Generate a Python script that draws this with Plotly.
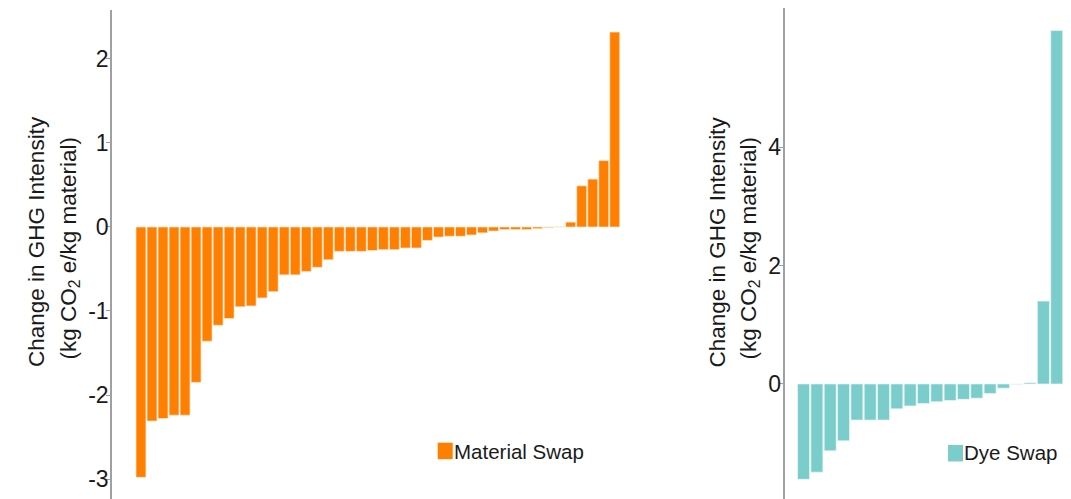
import plotly.graph_objects as go

W, H = 1071, 499

# Change in GHG intensity per swap, sorted ascending (kg CO2e / kg material)
material_swap = [
    -2.98, -2.31, -2.28, -2.24, -2.24, -1.85, -1.36, -1.17, -1.09, -0.95,
    -0.94, -0.845, -0.77, -0.57, -0.57, -0.53, -0.48, -0.39, -0.29, -0.29,
    -0.29, -0.28, -0.27, -0.27, -0.25, -0.25, -0.16, -0.12, -0.11, -0.11,
    -0.095, -0.07, -0.048, -0.03, -0.03, -0.03, -0.02, -0.008, 0.002, 0.058,
    0.49, 0.57, 0.79, 2.32,
]
dye_swap = [
    -1.61, -1.49, -1.13, -0.96, -0.61, -0.61, -0.61, -0.42, -0.37, -0.33,
    -0.30, -0.28, -0.26, -0.24, -0.16, -0.07, -0.005, 0.02, 1.40, 5.97,
]

left_ticks = [-3, -2, -1, 0, 1, 2]
left_ticktext = ["-3", "-2", "-1", "0", "1", "2"]
right_ticks = [0, 2, 4]
right_ticktext = ["0", "2", "4"]

series_names = ["Material Swap", "Dye Swap"]
ORANGE = "#FF8000"
TEAL = "#7ACDCA"

FONT = "Liberation Sans, Arial, sans-serif"
AXIS_GREY = "#A0A0A0"
TEXT = "#1A1A1A"
TITLE = "Change in GHG Intensity"
SUBTITLE = "(kg CO<sub>2</sub> e/kg material)"


def px_x(p):
    return p / W


def px_y(p):
    return 1 - p / H


fig = go.Figure()

fig.add_trace(go.Bar(
    x=list(range(len(material_swap))), y=material_swap,
    marker=dict(color=ORANGE, line=dict(color="rgba(255,235,215,0.9)", width=0.7)),
    xaxis="x", yaxis="y", showlegend=False, name=series_names[0],
))
fig.add_trace(go.Bar(
    x=list(range(len(dye_swap))), y=dye_swap,
    marker=dict(color=TEAL, line=dict(color="rgba(235,250,250,0.9)", width=0.7)),
    xaxis="x2", yaxis="y2", showlegend=False, name=series_names[1],
))

hidden_x = dict(showline=False, showticklabels=False, showgrid=False,
                zeroline=False, ticks="")
y_common = dict(showline=True, linecolor=AXIS_GREY, linewidth=1.5,
                ticks="outside", ticklen=4, tickcolor=AXIS_GREY, tickwidth=1,
                ticklabelstandoff=-7,
                showgrid=False, zeroline=False,
                tickfont=dict(family=FONT, size=23, color=TEXT))

fig.update_layout(
    width=W, height=H,
    margin=dict(l=0, r=0, t=0, b=0),
    paper_bgcolor="white", plot_bgcolor="white",
    bargap=0.1,
    xaxis=dict(domain=[px_x(112), px_x(650)], range=[-2.63, 46.2], anchor="y", **hidden_x),
    yaxis=dict(domain=[0, px_y(10)], range=[-3.238, 2.583], anchor="x",
               tickvals=left_ticks, ticktext=left_ticktext, **y_common),
    xaxis2=dict(domain=[px_x(784.5), 1], range=[-1.43, 20.07], anchor="y2", **hidden_x),
    yaxis2=dict(domain=[0, px_y(7.5)], range=[-1.943, 6.36], anchor="x2",
                tickvals=right_ticks, ticktext=right_ticktext, **y_common),
)

# Rotated two-line y-axis titles for both panels
for cx1, cx2 in [(36, 69.5), (716.5, 749.5)]:
    fig.add_annotation(xref="paper", yref="paper", x=px_x(cx1), y=px_y(242),
                       text=TITLE, textangle=-90, showarrow=False,
                       xanchor="center", yanchor="middle",
                       font=dict(family=FONT, size=22.5, color=TEXT))
    fig.add_annotation(xref="paper", yref="paper", x=px_x(cx2), y=px_y(248),
                       text=SUBTITLE, textangle=-90, showarrow=False,
                       xanchor="center", yanchor="middle",
                       font=dict(family=FONT, size=22.5, color=TEXT))

# Legend keys drawn inside each panel
for (x0, y0, tx, ty), name, color in zip(
        [(437.7, 442.7, 452, 451), (948, 445, 962, 452.5)], series_names, [ORANGE, TEAL]):
    fig.add_shape(type="rect", xref="paper", yref="paper",
                  x0=px_x(x0), x1=px_x(x0 + 15), y0=px_y(y0), y1=px_y(y0 + 16.5),
                  fillcolor=color, line=dict(width=0))
    fig.add_annotation(xref="paper", yref="paper", x=px_x(tx), y=px_y(ty),
                       text=name, showarrow=False, xanchor="left", yanchor="middle",
                       font=dict(family=FONT, size=20.5, color=TEXT))

fig.write_html("out.html")
